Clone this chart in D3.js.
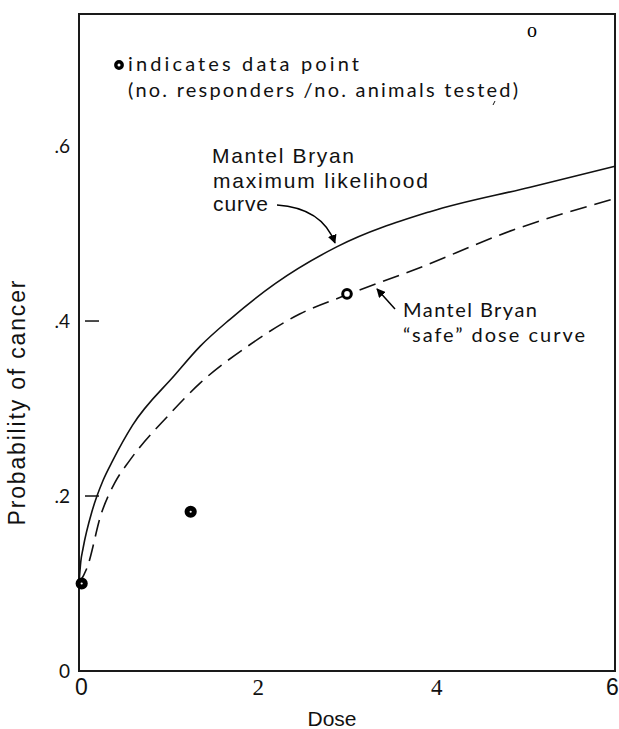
<!DOCTYPE html>
<html>
<head>
<meta charset="utf-8">
<script src="https://cdn.jsdelivr.net/npm/d3@7"></script>
<style>
  body { margin: 0; background: #fff; }
  svg { display: block; }
</style>
</head>
<body>
<div id="chart"></div>
<script>
// values
var xTicks = [0, 2, 4, 6];
var yTicks = [0, 0.2, 0.4, 0.6];
var innerTicks = [0.2, 0.4];

var mlDose = [0, 0.02, 0.045, 0.15, 0.27, 0.38, 0.6, 1.07, 1.355, 1.69, 2.2, 2.89, 3.93, 5.05, 6.0];
var mlProb = [0.10, 0.125, 0.14, 0.184, 0.218, 0.241, 0.281, 0.338, 0.371, 0.402, 0.443, 0.485, 0.525, 0.553, 0.577];

var safeDose = [0, 0.09, 0.25, 0.40, 0.57, 1.0, 1.355, 1.9, 2.47, 3.0, 3.74, 4.86, 6.0];
var safeProb = [0.10, 0.118, 0.18, 0.215, 0.241, 0.292, 0.329, 0.372, 0.408, 0.43, 0.458, 0.504, 0.54];

var pointDose = [0.03, 1.25, 3.0];
var pointProb = [0.10, 0.182, 0.431];

var strayDose = 5.07, strayProb = 0.73;

var width = 619, height = 729;
var margin = {top: 14, right: 4, bottom: 58, left: 79};

var svg = d3.select("#chart")
    .append("svg")
    .attr("width", width)
    .attr("height", height);

var g = svg.append("g")
    .attr("transform", "translate(" + margin.left + "," + margin.top + ")");

var w = width - margin.left - margin.right,
    h = height - margin.top - margin.bottom;

var x = d3.scaleLinear().domain([0, 6]).range([0, w]);
var y = d3.scaleLinear().domain([0, 0.7509]).range([h, 0]);

// frame
g.append("rect")
    .attr("x", 0).attr("y", 0)
    .attr("width", w).attr("height", h)
    .style("fill", "none")
    .style("stroke", "#1a1a1a")
    .style("stroke-width", "2px");

// x axis
var xa = g.append("g")
    .attr("transform", "translate(0," + h + ")")
    .call(d3.axisBottom(x).tickValues(xTicks).tickSize(0).tickFormat(d3.format("d")));
xa.select(".domain").remove();
xa.selectAll("text")
    .attr("y", 24).attr("dy", 0)
    .style("font-size", "23px")
    .style("fill", "#111")
    .style("font-family", function(d){ return (d == 2 || d == 4) ? "'Liberation Serif', serif" : "'Liberation Sans', Arial, sans-serif"; })
    .attr("dx", function(d){ return d == 6 ? -3 : (d == 0 ? 2 : 0); });

// y axis
var ya = g.append("g")
    .call(d3.axisLeft(y).tickValues(yTicks).tickSize(0)
        .tickFormat(function(d){ return d === 0 ? "0" : d3.format(".1f")(d).replace("0.", "."); }));
ya.select(".domain").remove();
ya.selectAll("text")
    .attr("x", -9)
    .style("font-size", "19px")
    .style("fill", "#111")
    .style("font-family", "Lato, 'DejaVu Sans', sans-serif");

g.selectAll(".innertick")
    .data(innerTicks)
    .enter().append("line")
    .attr("x1", 6).attr("x2", 20)
    .attr("y1", function(d){ return y(d); })
    .attr("y2", function(d){ return y(d); })
    .style("stroke", "#111")
    .style("stroke-width", "1.5px");

// curves
var line = d3.line()
    .x(function(d){ return x(d[0]); })
    .y(function(d){ return y(d[1]); })
    .curve(d3.curveMonotoneX);

g.append("path")
    .datum(d3.zip(mlDose, mlProb))
    .attr("d", line)
    .style("fill", "none")
    .style("stroke", "#111")
    .style("stroke-width", "1.6px");

g.append("path")
    .datum(d3.zip(safeDose, safeProb))
    .attr("d", line)
    .style("fill", "none")
    .style("stroke", "#111")
    .style("stroke-width", "1.6px")
    .style("stroke-dasharray", "17,8");

// data points (first two print almost solid, the last one as a ring)
g.selectAll(".pt")
    .data(d3.zip(pointDose, pointProb))
    .enter().append("circle")
    .attr("cx", function(d){ return x(d[0]); })
    .attr("cy", function(d){ return y(d[1]); })
    .attr("r", function(d, i){ return i < 2 ? 3.6 : 4.3; })
    .style("fill", "#fff")
    .style("stroke", "#000")
    .style("stroke-width", function(d, i){ return i < 2 ? "5px" : "3px"; });

g.append("text")
    .attr("x", x(strayDose))
    .attr("y", y(strayProb) + 5)
    .attr("text-anchor", "middle")
    .style("font-family", "'Liberation Serif', serif")
    .style("font-size", "20px")
    .text("o");

// legend
svg.append("circle")
    .attr("cx", 119).attr("cy", 65).attr("r", 3.2)
    .style("fill", "#fff").style("stroke", "#000").style("stroke-width", "3.4px");

var leg = svg.append("g")
    .style("font-family", "Lato, 'DejaVu Sans', sans-serif")
    .style("font-size", "20px")
    .style("fill", "#111");
leg.append("text").attr("x", 128).attr("y", 71)
    .attr("textLength", 231).attr("lengthAdjust", "spacing")
    .text("indicates data point");
leg.append("text").attr("x", 128).attr("y", 97)
    .attr("textLength", 390).attr("lengthAdjust", "spacing")
    .text("(no. responders /no. animals tested)");
leg.append("line")
    .attr("x1", 495).attr("y1", 101).attr("x2", 493).attr("y2", 105)
    .style("stroke", "#111").style("stroke-width", "1px");

// annotations
svg.append("defs").append("marker")
    .attr("id", "head")
    .attr("viewBox", "0 0 10 10")
    .attr("refX", 9).attr("refY", 5)
    .attr("markerWidth", 9).attr("markerHeight", 9)
    .attr("markerUnits", "userSpaceOnUse")
    .attr("orient", "auto")
    .append("path")
    .attr("d", "M0,0 L10,5 L0,10 z")
    .style("fill", "#000");

var ann1 = svg.append("g")
    .style("font-family", "'Liberation Sans', Arial, sans-serif")
    .style("font-size", "21px")
    .style("fill", "#111");
ann1.append("text").attr("x", 212).attr("y", 163)
    .attr("textLength", 142).attr("lengthAdjust", "spacing").text("Mantel Bryan");
ann1.append("text").attr("x", 213).attr("y", 188)
    .attr("textLength", 215).attr("lengthAdjust", "spacing").text("maximum likelihood");
ann1.append("text").attr("x", 213).attr("y", 211)
    .attr("textLength", 55).attr("lengthAdjust", "spacing").text("curve");

svg.append("path")
    .attr("d", "M277,205 Q322,208 335,243")
    .style("fill", "none")
    .style("stroke", "#000")
    .style("stroke-width", "1.5px")
    .attr("marker-end", "url(#head)");

var ann2 = svg.append("g")
    .style("font-family", "Lato, 'DejaVu Sans', sans-serif")
    .style("font-size", "20px")
    .style("fill", "#111");
ann2.append("text").attr("x", 403).attr("y", 317)
    .attr("textLength", 134).attr("lengthAdjust", "spacing").text("Mantel Bryan");
ann2.append("text").attr("x", 403).attr("y", 342)
    .attr("textLength", 182).attr("lengthAdjust", "spacing").text("\u201csafe\u201d dose curve");

svg.append("line")
    .attr("x1", 395).attr("y1", 309).attr("x2", 377).attr("y2", 289)
    .style("stroke", "#000")
    .style("stroke-width", "1.5px")
    .attr("marker-end", "url(#head)");

// axis titles
svg.append("text")
    .attr("x", 332).attr("y", 726)
    .attr("text-anchor", "middle")
    .style("font-family", "'Liberation Sans', Arial, sans-serif")
    .style("font-size", "21px")
    .style("fill", "#111")
    .text("Dose");

svg.append("text")
    .attr("transform", "translate(25,403) rotate(-90)")
    .attr("text-anchor", "middle")
    .attr("textLength", 245).attr("lengthAdjust", "spacing")
    .style("font-family", "'Liberation Sans', Arial, sans-serif")
    .style("font-size", "23px")
    .style("fill", "#111")
    .text("Probability of cancer");
</script>
</body>
</html>
